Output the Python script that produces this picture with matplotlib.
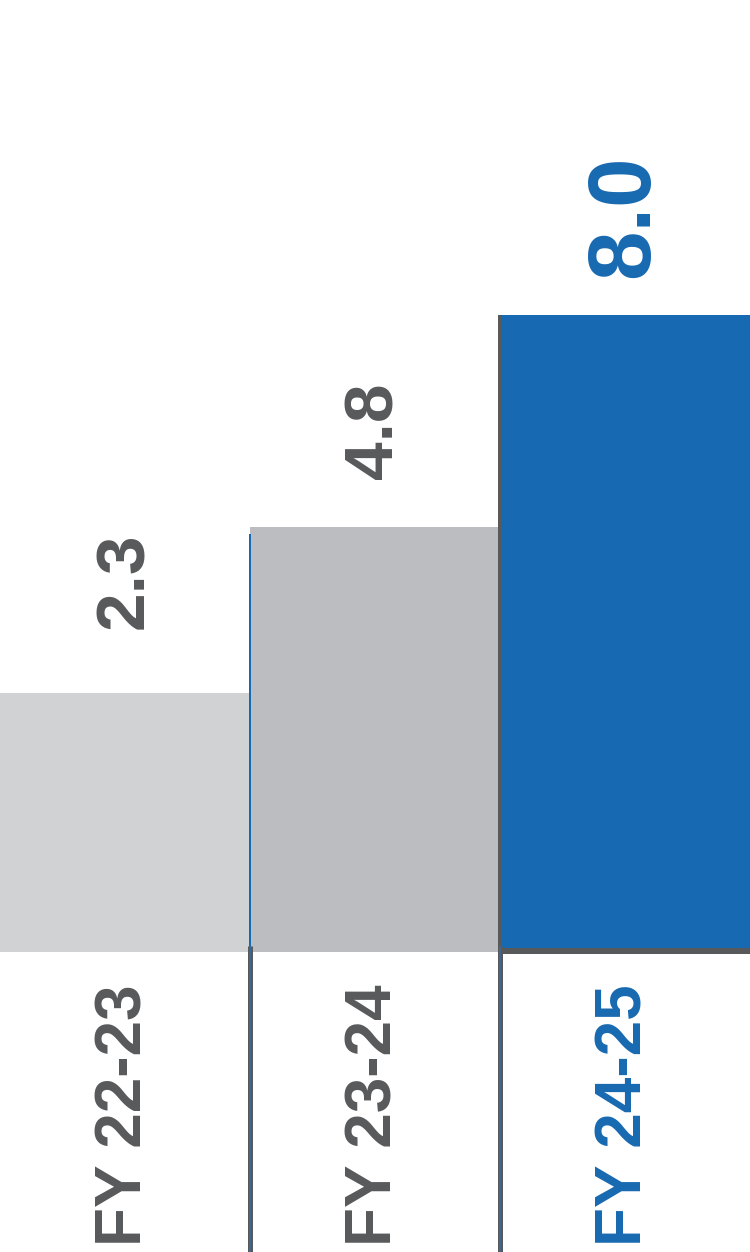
import matplotlib
matplotlib.use("Agg")
import matplotlib.pyplot as plt
import matplotlib.transforms as mtransforms

# ---- data ----
categories = ["FY 22-23", "FY 23-24", "FY 24-25"]
values = [2.3, 4.8, 8.0]
value_labels = ["2.3", "4.8", "8.0"]

# ---- style ----
bar_colors = ["#d1d2d4", "#bcbdc0", "#1769b1"]
text_colors = ["#58595b", "#58595b", "#1769b1"]
value_sizes = [50, 50, 64]
value_gaps = [64, 48, 37]  # px gap between bar top and label
FONT = ["Liberation Sans", "DejaVu Sans"]
GRAY = "#58595b"
BLUE = "#1769b1"
BASE = -1.6
PX_PER_UNIT = 66.4

W, H = 750, 1252
fig = plt.figure(figsize=(W / 100, H / 100), dpi=100)
ax = fig.add_axes([0, 0, 1, 1])
ax.set_axis_off()
ymin = BASE - 300 / PX_PER_UNIT
ymax = BASE + 952 / PX_PER_UNIT
ax.set_xlim(-0.5, len(categories) - 0.5)
ax.set_ylim(ymin, ymax)

x = list(range(len(categories)))
heights = [v - BASE for v in values]
ax.bar(x, heights, bottom=BASE, width=1.0, color=bar_colors, linewidth=0, zorder=2)

px = 0.72  # points per pixel at dpi 100
# separators below baseline
for i in range(1, len(categories)):
    ax.vlines(i - 0.5, ymin, BASE + 6 / PX_PER_UNIT, colors=GRAY, linewidth=5 * px, zorder=3)
    ax.vlines(i - 0.5, ymin, BASE + 6 / PX_PER_UNIT, colors="#3d6a99", linewidth=1.6 * px, zorder=4)
# thin blue line on left of bar 2
ax.vlines(0.5, BASE, values[1] - 7 / PX_PER_UNIT, colors=BLUE, linewidth=2 * px, zorder=3)
# dark edges on highlighted bar
ax.vlines(1.5, BASE, values[2], colors=GRAY, linewidth=4 * px, zorder=3)
ax.hlines(BASE + 1 / PX_PER_UNIT, 1.5, 2.5, colors=GRAY, linewidth=6 * px, zorder=3)

# value labels
for i, (v, lab) in enumerate(zip(values, value_labels)):
    ax.annotate(lab, xy=(i, v), xytext=(0, value_gaps[i] * px), textcoords="offset points",
                rotation=90, ha="center", va="bottom", fontsize=value_sizes[i],
                fontweight="bold", color=text_colors[i], family=FONT, zorder=5)

# category labels
trans = mtransforms.blended_transform_factory(ax.transData, ax.transAxes)
for i, cat in enumerate(categories):
    ax.text(i, (H - 1115) / H, cat, transform=trans, rotation=90, ha="center", va="center",
            fontsize=46, fontweight="bold", color=text_colors[i], family=FONT, zorder=5)

fig.savefig("out.png", dpi=100, facecolor="white")
